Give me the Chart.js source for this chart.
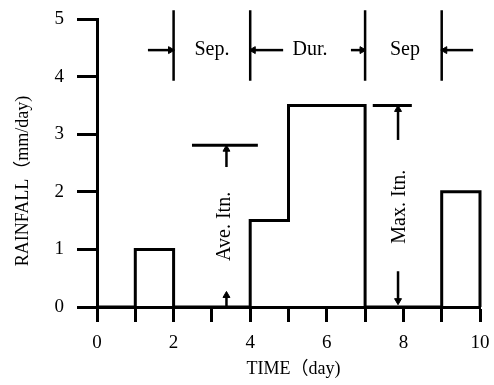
<!DOCTYPE html>
<html>
<head>
<meta charset="utf-8">
<script src="https://cdn.jsdelivr.net/npm/chart.js@4/dist/chart.umd.min.js"></script>
<style>
  html, body { margin: 0; padding: 0; background: #fff; }
  canvas { display: block; }
</style>
</head>
<body>
<canvas id="c" width="494" height="385"></canvas>
<script>
// Rainfall intensity as a step series: each value holds until the next day mark.
const days = [0, 1, 2, 4, 5, 7, 9, 10];
const rainfall = [0, 1, 0, 1.5, 3.5, 0, 2, 0];

// Axis ticks
const xTicks = [0, 1, 2, 3, 4, 5, 6, 7, 8, 9, 10];
const yTicks = [0, 1, 2, 3, 4, 5];

// Event boundaries (start/end of storms) marked at the top
const boundaryDays = [2, 4, 7, 9];
const boundaryBottom = 3.93;
const boundaryTop = 5.15;

// Horizontal dimension arrows: [tail x, tip x] at a common height
const dimArrowY = 4.46;
const dimArrows = [[1.33, 2], [4.86, 4], [6.63, 7], [9.82, 9]];

// Intensity reference levels: [x start, x end, level]
const aveLevel = [2.48, 4.2, 2.81];
const maxLevel = [7.2, 8.22, 3.5];

// Vertical arrows: [x, tail y, tip y]
const vArrows = [
  [3.38, 2.43, 2.81],
  [3.38, 0.0, 0.27],
  [7.86, 2.9, 3.5],
  [7.86, 0.62, 0.04]
];

// Text labels: [text, x, y, rotated]
const notes = [
  ['Sep.', 3.0, 4.46, false],
  ['Dur.', 5.56, 4.46, false],
  ['Sep', 8.04, 4.46, false],
  ['Ave. Itn.', 3.34, 1.4, true],
  ['Max. Itn.', 7.9, 1.74, true]
];

const xTitle = 'TIME\uFF08day)';
const yTitle = 'RAINFALL\uFF08mm/day)';

const FONT = "'Liberation Serif', 'Noto Sans CJK JP', serif";
const INK = '#000';

const datasets = [];

datasets.push({
  label: 'rainfall',
  data: days.map((d, i) => ({ x: d, y: rainfall[i] })),
  stepped: 'before',
  borderColor: INK,
  borderWidth: 3,
  pointRadius: 0,
  fill: false,
  clip: false
});

// boundary markers
const bData = [];
boundaryDays.forEach(d => {
  bData.push({ x: d, y: boundaryBottom }, { x: d, y: boundaryTop }, { x: d, y: null });
});
datasets.push({
  label: 'boundaries',
  data: bData,
  borderColor: INK,
  borderWidth: 2.5,
  pointRadius: 0,
  spanGaps: false,
  clip: false
});

// reference level lines
[aveLevel, maxLevel].forEach((lv, i) => {
  datasets.push({
    label: i === 0 ? 'average level' : 'max level',
    data: [{ x: lv[0], y: lv[2] }, { x: lv[1], y: lv[2] }],
    borderColor: INK,
    borderWidth: 3,
    pointRadius: 0,
    clip: false
  });
});

// arrow shafts with triangular heads at the tip
function arrow(p0, p1, rot) {
  datasets.push({
    label: 'arrow',
    data: [p0, p1],
    borderColor: INK,
    backgroundColor: INK,
    borderWidth: 2.5,
    pointStyle: 'triangle',
    pointRadius: [0, 4],
    pointBorderWidth: 1,
    pointRotation: rot,
    clip: false
  });
}
dimArrows.forEach(a => {
  const right = a[1] > a[0];
  const back = right ? -0.08 : 0.08;
  arrow({ x: a[0], y: dimArrowY }, { x: a[1] + back, y: dimArrowY }, right ? 90 : 270);
});
vArrows.forEach(a => {
  const up = a[2] > a[1];
  const back = up ? -0.07 : 0.07;
  arrow({ x: a[0], y: a[1] }, { x: a[0], y: a[2] + back }, up ? 0 : 180);
});

const textPlugin = {
  id: 'notes',
  afterDatasetsDraw(chart) {
    const ctx = chart.ctx;
    const xs = chart.scales.x, ys = chart.scales.y;
    ctx.save();
    ctx.fillStyle = INK;
    ctx.textAlign = 'center';
    ctx.textBaseline = 'middle';
    ctx.font = '20px ' + FONT;
    notes.forEach(([t, x, y, rot]) => {
      const px = xs.getPixelForValue(x), py = ys.getPixelForValue(y);
      ctx.save();
      ctx.translate(px, py);
      if (rot) ctx.rotate(-Math.PI / 2);
      ctx.fillText(t, 0, 0);
      ctx.restore();
    });
    // axis titles
    ctx.font = '18px ' + FONT;
    const ca = chart.chartArea;
    ctx.fillText(xTitle, (ca.left + ca.right) / 2 + 5, 369);
    ctx.save();
    ctx.translate(23, (ca.top + ca.bottom) / 2 + 18);
    ctx.rotate(-Math.PI / 2);
    ctx.fillText(yTitle, 0, 0);
    ctx.restore();
    ctx.restore();
  }
};

const bgPlugin = {
  id: 'bg',
  beforeDraw(chart) {
    const ctx = chart.ctx;
    ctx.save();
    ctx.fillStyle = '#fff';
    ctx.fillRect(0, 0, chart.width, chart.height);
    ctx.restore();
  }
};

new Chart(document.getElementById('c'), {
  type: 'line',
  data: { datasets },
  options: {
    responsive: false,
    animation: false,
    layout: { padding: { left: 0, top: 19, right: 14, bottom: 0 } },
    plugins: { legend: { display: false }, tooltip: { enabled: false } },
    scales: {
      x: {
        type: 'linear',
        min: 0, max: 10,
        afterBuildTicks(s) { s.ticks = xTicks.map(v => ({ value: v })); },
        afterFit(s) { s.height = 78; s.paddingLeft = 0; s.paddingRight = 0; },
        ticks: {
          color: INK,
          font: { family: FONT, size: 19 },
          padding: 10,
          maxRotation: 0,
          autoSkip: false,
          callback: v => (v % 2 === 0 ? String(v) : '')
        },
        grid: { display: true, drawOnChartArea: false, drawTicks: true, tickLength: 15, tickWidth: 3, tickColor: INK },
        border: { display: true, color: INK, width: 3 }
      },
      y: {
        type: 'linear',
        min: 0, max: 5,
        afterBuildTicks(s) { s.ticks = yTicks.map(v => ({ value: v })); },
        afterFit(s) { s.width = 97; s.paddingTop = 0; s.paddingBottom = 0; },
        ticks: {
          color: INK,
          font: { family: FONT, size: 19 },
          padding: 13
        },
        grid: { display: true, drawOnChartArea: false, drawTicks: true, tickLength: 20, tickWidth: 3, tickColor: INK },
        border: { display: true, color: INK, width: 3 }
      }
    }
  },
  plugins: [bgPlugin, textPlugin]
});
</script>
</body>
</html>
